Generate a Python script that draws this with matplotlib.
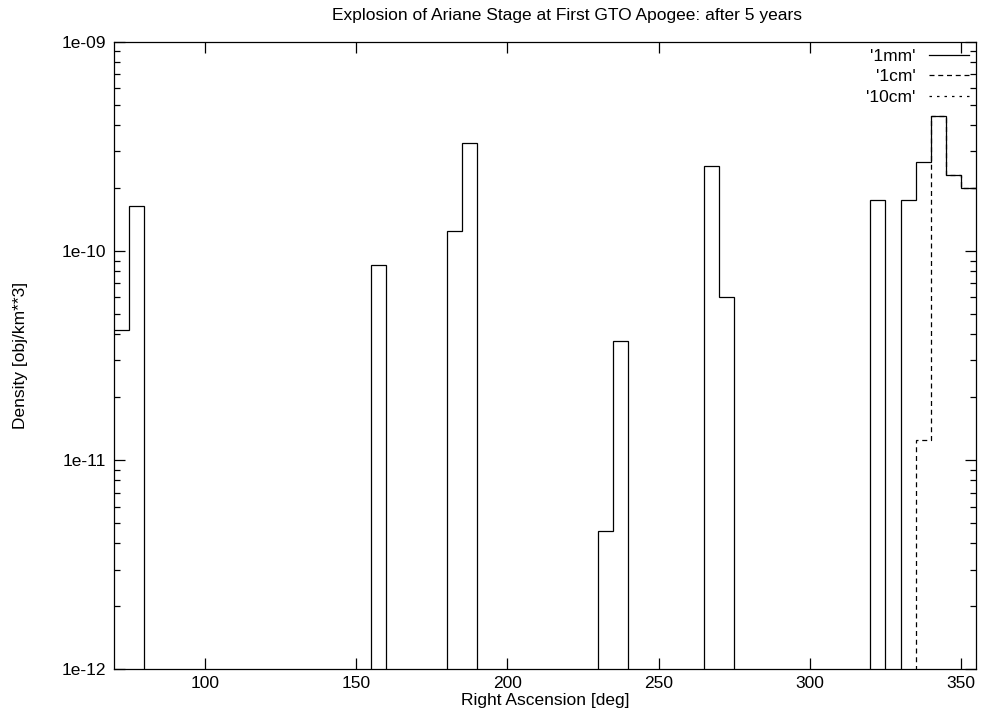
import numpy as np
import matplotlib
matplotlib.use("Agg")
import matplotlib.pyplot as plt
from matplotlib.ticker import LogLocator, FixedLocator, NullLocator

plt.rcParams['font.family'] = ['Liberation Sans', 'DejaVu Sans']

# 5-degree right ascension bins, 70..355 deg
bin_edges = np.arange(70, 356, 5)

# density [obj/km**3] per bin, 0 = empty
density_1mm = [
    4.2e-11, 1.65e-10, 0, 0, 0, 0, 0, 0, 0, 0,         # 70 - 115
    0, 0, 0, 0, 0, 0, 0, 8.6e-11, 0, 0,                 # 120 - 165
    0, 0, 1.25e-10, 3.3e-10, 0, 0, 0, 0, 0, 0,          # 170 - 215
    0, 0, 4.6e-12, 3.7e-11, 0, 0, 0, 0, 0, 2.55e-10,    # 220 - 265
    6.0e-11, 0, 0, 0, 0, 0, 0, 0, 0, 0,                 # 270 - 315
    1.75e-10, 0, 1.75e-10, 2.65e-10, 4.4e-10, 2.3e-10, 2.0e-10,  # 320 - 350
]
density_1cm = [0] * 53 + [1.25e-11, 4.4e-10, 2.3e-10, 2.0e-10]
density_10cm = [0] * 57

labels = ["'1mm'", "'1cm'", "'10cm'"]
styles = ['-', (0, (4, 3)), (0, (2, 4))]

fig = plt.figure(figsize=(9.84, 7.22), dpi=100)
ax = fig.add_axes([0.116, 0.073, 0.876, 0.869])

floor = 1e-14  # empty bins drop below the axis
for vals, lab, ls in zip([density_1mm, density_1cm, density_10cm], labels, styles):
    v = np.array(vals, dtype=float)
    v[v <= 0] = floor
    ax.stairs(v, bin_edges, baseline=None, color='black', linewidth=0.9,
              linestyle=ls, label=lab)

ax.set_yscale('log')
ax.set_xlim(70, 355)
ax.set_ylim(1e-12, 1e-9)

ax.xaxis.set_major_locator(FixedLocator([100, 150, 200, 250, 300, 350]))
ax.xaxis.set_minor_locator(NullLocator())
ax.yaxis.set_major_locator(FixedLocator([1e-12, 1e-11, 1e-10, 1e-9]))
ax.yaxis.set_minor_locator(LogLocator(base=10, subs=np.arange(2, 10), numticks=20))
ax.set_yticklabels(['1e-12', '1e-11', '1e-10', '1e-09'])
ax.yaxis.set_minor_formatter(plt.NullFormatter())

ax.tick_params(which='both', direction='in', top=True, right=True,
               labelsize=12.5, width=0.9, color='black')
ax.tick_params(which='major', length=8)
ax.tick_params(axis='y', which='major', pad=6)
ax.tick_params(axis='x', which='major', pad=5)
ax.tick_params(which='minor', length=4)
for sp in ax.spines.values():
    sp.set_linewidth(0.9)

ax.set_title('Explosion of Ariane Stage at First GTO Apogee: after 5 years',
             fontsize=12.5, pad=16, x=0.525)
ax.set_xlabel('Right Ascension [deg]', fontsize=12.5, labelpad=1)
ax.set_ylabel('Density [obj/km**3]', fontsize=12.5, labelpad=24)

ax.legend(loc='upper right', frameon=False, markerfirst=False, fontsize=12.5,
          handlelength=2.3, labelspacing=0.3, borderaxespad=0.2, handletextpad=0.8,
          borderpad=0.2)

fig.savefig('out.png', dpi=100)
